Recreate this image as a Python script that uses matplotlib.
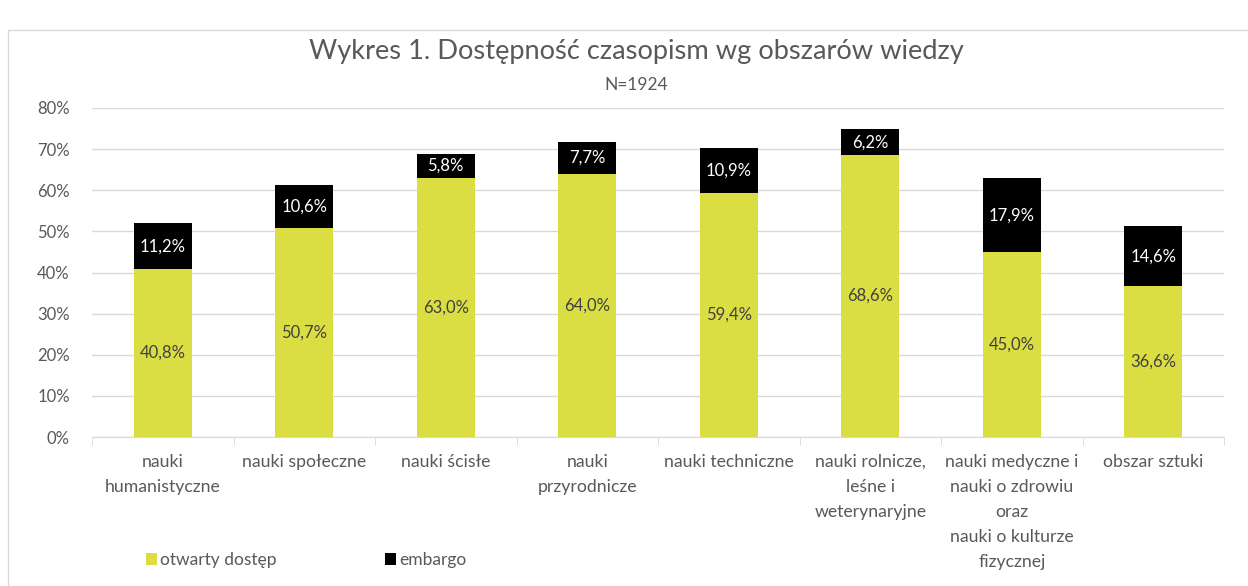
import matplotlib
matplotlib.use("Agg")
import matplotlib.pyplot as plt
from matplotlib.patches import Rectangle

categories = ["nauki\nhumanistyczne", "nauki społeczne", "nauki ścisłe", "nauki\nprzyrodnicze",
              "nauki techniczne", "nauki rolnicze,\nleśne i\nweterynaryjne",
              "nauki medyczne i\nnauki o zdrowiu\noraz\nnauki o kulturze\nfizycznej", "obszar sztuki"]
open_access = [40.8, 50.7, 63.0, 64.0, 59.4, 68.6, 45.0, 36.6]
embargo = [11.2, 10.6, 5.8, 7.7, 10.9, 6.2, 17.9, 14.6]
series_names = ["otwarty dostęp", "embargo"]
yticks = [0, 10, 20, 30, 40, 50, 60, 70, 80]

plt.rcParams['font.family'] = ['Lato', 'DejaVu Sans']
W, H = 1248, 586
fig = plt.figure(figsize=(W/100, H/100), dpi=100)
ax = fig.add_axes([92/W, 1-437/H, (1224-92)/W, (437-108)/H])

green = "#DBDE43"
grey = "#595959"
x = list(range(len(categories)))
bw = 0.41
b1 = ax.bar(x, open_access, width=bw, color=green, zorder=3)
b2 = ax.bar(x, embargo, width=bw, bottom=open_access, color="black", zorder=3)
for i in x:
    ax.text(i, open_access[i]/2, f"{open_access[i]:.1f}%".replace(".", ","),
            ha="center", va="center", fontsize=12, color="#404040", zorder=4)
    ax.text(i, open_access[i] + embargo[i]/2, f"{embargo[i]:.1f}%".replace(".", ","),
            ha="center", va="center", fontsize=12, color="white", zorder=4)

ax.set_xlim(-0.5, len(categories)-0.5)
ax.set_ylim(0, 80)
ax.set_yticks(yticks)
ax.set_yticklabels([f"{t}%" for t in yticks], fontsize=12, color=grey)
ax.yaxis.grid(True, color="#D9D9D9", linewidth=1, zorder=0)
ax.tick_params(axis="y", length=0, pad=16)
ax.set_xticks([i + 0.5 for i in x[:-1]] + [-0.5, len(categories)-0.5], minor=True)
ax.set_xticks(x)
ax.set_xticklabels(categories, fontsize=12.7, color=grey, linespacing=1.7)
ax.tick_params(axis="x", which="major", length=0, pad=12)
ax.tick_params(axis="x", which="minor", length=6, color="#D9D9D9")
for s in ["top", "right", "left"]:
    ax.spines[s].set_visible(False)
ax.spines["bottom"].set_color("#D9D9D9")

fig.text(636/W, 1-51/H, "Wykres 1. Dostępność czasopism wg obszarów wiedzy",
         ha="center", va="center", fontsize=19.6, color=grey)
fig.text(636/W, 1-85/H, "N=1924", ha="center", va="center", fontsize=12.5, color=grey)

fig.patches.append(Rectangle((8/W, -0.1), 1.2, 1-30/H+0.1, transform=fig.transFigure,
                             fill=False, edgecolor="#D9D9D9", linewidth=1))

leg = fig.legend([b1, b2], series_names, loc="center left", bbox_to_anchor=(130/W, 1-560/H),
                 ncol=2, frameon=False, fontsize=12.5, handlelength=0.65, handleheight=0.7,
                 handletextpad=0.2, columnspacing=6.2)
for t in leg.get_texts():
    t.set_color(grey)

fig.savefig("out.png", dpi=100)
